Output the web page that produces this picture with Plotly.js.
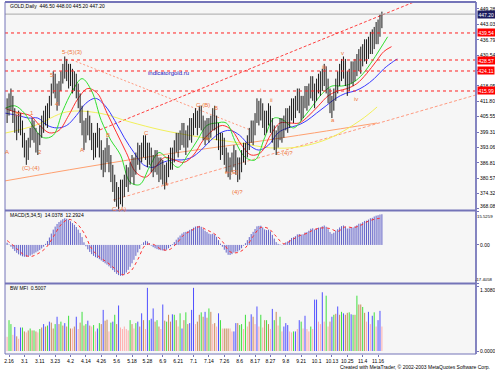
<!DOCTYPE html>
<html><head><meta charset="utf-8">
<script src="https://cdn.plot.ly/plotly-3.0.1.min.js"></script>
<style>html,body{margin:0;padding:0;background:#fff;}#chart{width:495px;height:374px;}</style>
</head><body><div id="chart"></div>
<script>
// ---------- DATA ----------
const dateLabels = ["2.16","3.1","3.11","3.23","4.2","4.14","4.26","5.6","5.18","5.28","6.9","6.21","7.1","7.14","7.26","8.6","8.17","8.27","9.8","9.21","10.1","10.13","10.25","11.4","11.16"];
const dateIdx = [1,9,17,25,33,41,49,57,65,73,81,89,97,105,113,121,129,137,145,153,161,169,177,185,193];

const close = [408,411,413,407,404,401,405,403,397,394,
390,393,398,401,399,396,395,399,402,404,
407,406,411,416,420,418,412,416,421,424,
427,425,422,424,420,421,418,414,409,403,
398,400,404,401,397,393,395,399,394,390,
386,389,393,388,384,380,377,373,372,376,
374,379,382,380,384,386,383,388,391,389,
392,395,393,390,392,388,386,389,387,384,
386,383,381,384,387,390,389,393,396,394,
397,400,398,395,399,402,400,404,406,403,
407,405,401,399,402,400,403,406,405,401,
397,394,396,391,388,386,385,388,390,387,
384,386,389,392,391,395,398,401,399,404,
409,407,410,406,403,405,408,404,400,397,
396,399,402,400,403,406,404,407,410,408,
411,414,412,409,411,415,413,416,419,417,
414,418,420,419,422,424,420,416,412,410,
414,418,421,424,426,427,423,419,422,425,
423,426,428,430,429,432,434,433,435,437,
436,439,441,440,444,447.2];
const high = [413,415,417,414,409,406,408,407,404,399,
396,397,401,405,404,401,399,402,406,408,
410,411,414,419,424,423,419,420,424,427,
430,429,427,427,425,424,423,419,415,410,
404,405,408,406,403,399,399,403,401,396,
392,393,397,394,390,386,382,379,377,380,
380,382,386,385,387,390,389,391,395,394,
395,398,398,395,395,393,390,392,392,389,
389,388,386,387,390,393,393,396,399,399,
400,403,403,400,402,405,405,407,409,408,
410,410,406,404,405,405,406,409,410,406,
403,399,399,397,393,391,389,391,394,392,
389,389,392,395,395,398,401,404,404,407,
413,412,413,411,408,408,411,410,405,402,
400,402,405,405,406,409,409,410,413,413,
414,417,417,414,414,418,418,419,422,422,
419,421,423,424,425,427,426,421,417,414,
417,421,424,427,429,430,429,424,425,428,
428,429,431,433,434,435,437,437,438,440,
441,442,444,445,447,448.2];
const low = [403,406,408,403,399,396,399,398,393,389,
386,388,393,396,395,391,390,394,397,399,
402,401,405,410,415,413,408,410,416,419,
421,420,417,418,415,416,413,409,403,398,
392,395,398,396,392,388,389,393,389,384,
381,383,387,383,379,375,371,369,368,370,
369,373,377,375,378,381,378,382,386,384,
387,389,388,385,386,383,381,383,382,379,
380,378,376,378,381,384,384,387,391,389,
392,394,393,390,393,396,395,398,401,398,
401,400,396,394,396,395,397,400,400,396,
392,388,390,386,383,381,380,383,385,382,
379,380,383,387,386,389,392,395,394,398,
403,402,404,401,398,399,402,399,395,392,
390,393,396,395,397,400,399,401,404,403,
405,408,407,404,405,409,408,410,413,412,
409,412,415,414,416,418,415,411,407,405,
408,412,415,418,420,421,418,414,416,419,
418,420,422,424,423,426,428,427,429,431,
431,433,435,435,438,441.5];

// Alligator-like moving averages (sparse points)
const greenX = [-1,4,9,14,19,24,29,34,39,44,49,54,59,64,69,74,79,84,89,94,99,104,109,114,119,124,129,134,139,144,149,154,159,164,169,174,179,184,189,194,198];
const greenY = [409,410,407,401,397,398,408,416,421,416,404,396,390,379,378,385,391,388,385,390,396,402,403,403,395,389,388,397,405,404,401,405,410,415,418,418,419,422,427,433,438];
const redX = [-1,2,7,12,17,22,27,32,37,42,47,52,57,62,67,72,77,82,87,92,97,102,107,112,117,122,127,132,137,142,147,152,157,162,167,172,177,182,187,192,196,200];
const redY = [409,408,407,406,402,399,400,406,413,417,415,407,399,391,383,381,385,389,388,387,390,396,400,402,400,394,390,391,398,403,403,403,406,410,414,416,417,419,423,428,432,434];
const blueX = [-1,6,11,16,21,26,31,36,41,46,51,56,61,66,71,76,81,86,91,96,101,106,111,116,121,126,131,136,141,146,151,156,161,166,171,176,181,186,191,196,201,203];
const blueY = [407,406,405,405,402,401,402,406,411,413,410,404,397,391,386,385,387,388,388,389,392,396,399,400,398,394,392,394,399,401,402,404,407,410,413,415,416,418,421,425,428,429];
const yellowX = [-1,14.5,31,48,64,80,100,121,137,152,168,184,192.5];
const yellowY = [398.9,402,407.5,407,403.4,400.2,397.3,394.9,392.9,393.3,396.9,404.2,409.5];
const orangeX = [-1,40,80,126,160,192.5];
const orangeY = [379.5,385,390,395,399,403];

// trend / channel lines (endpoints)
const upperX = [48.3,214.8], upperY = [400.2,453.1];
const lowerX = [55.1,244], lowerY = [371.7,414.4];
const descX = [33.8,126.4], descY = [428.6,400.2];

// horizontal levels
const levelPrices = [439.54,428.57,424.11,415.99];
const levelText = ["439.54","428.57","424.11","415.99"];
const lastPrice = 447.20;

// price axis labels
const priceTicks = [449.28,443.03,436.79,430.54,424.29,418.05,411.80,405.55,399.31,393.06,386.81,380.57,374.32,368.08];

// Elliott wave labels
const waveText = ["(B)","1","5","4","5-(5)(3)","A","2","(C)-(4)","A","B","C","C-(A)","b","C-(B)","B","a","e-(E)","(4)?","i","ii","c-(4)?","iii","v","iv","a"];
const waveIdx  = [5.7,13.0,23.4,26.0,33.8,-0.3,17.2,12.5,39.0,52.5,72.3,58.2,83.2,101.9,108.7,104.0,117.0,120.1,131.6,137.8,144.6,164.8,174.7,181.5,169.5];
const wavePrice= [406.6,407.1,422.5,410.7,431.8,391.2,391.2,384.7,392.0,398.1,398.9,368.1,378.2,410.3,409.1,396.9,383.1,375.0,416.4,412.3,390.8,425.7,431.4,412.7,404.2];

// MACD(5,34,5)
const macd = [1.0,0.2,-0.8,-1.8,-2.8,-3.6,-4.3,-4.8,-5.2,-5.4,
-5.5,-5.3,-4.9,-4.4,-3.9,-3.4,-2.9,-2.3,-1.6,-0.8,
0.5,1.8,3.4,5.2,7.0,8.4,9.6,10.5,11.2,11.8,
12.2,12.0,11.5,10.8,10.0,9.2,8.2,7.0,5.5,3.6,
1.2,-0.6,-2.0,-3.2,-4.2,-5.0,-5.6,-6.0,-6.5,-7.1,
-7.8,-8.4,-9.0,-9.8,-10.6,-11.5,-12.4,-13.2,-13.8,-14.1,
-14.0,-13.5,-12.6,-11.4,-10.0,-8.4,-6.8,-5.0,-3.4,-1.8,
0.2,1.2,1.9,1.6,0.8,-0.3,-1.0,-1.5,-1.9,-2.2,
-2.4,-2.5,-2.6,-2.2,-1.5,-0.6,0.3,1.3,2.4,3.4,
4.3,5.2,5.8,6.0,6.3,6.9,7.3,7.9,8.4,8.6,
8.7,8.3,7.4,6.5,5.9,5.2,4.9,5.1,4.8,3.7,
2.2,0.6,-0.8,-2.2,-3.5,-4.5,-4.6,-4.2,-3.5,-3.1,
-3.0,-2.4,-1.5,-0.3,0.8,2.2,3.6,5.0,6.0,7.3,
8.5,8.7,8.8,8.0,7.1,6.8,7.0,6.2,4.6,2.9,
1.3,0.5,0.2,-0.1,0.4,1.2,1.6,2.3,3.2,3.5,
4.0,4.8,5.0,4.7,4.9,5.7,5.9,6.5,7.4,7.6,
7.0,7.4,7.9,8.0,8.5,8.9,8.3,7.2,5.9,5.1,
5.6,6.5,7.2,8.0,8.6,8.9,8.3,7.5,7.6,8.1,
8.0,8.5,9.0,9.7,9.8,10.4,11.0,11.1,11.6,12.2,
12.4,13.0,13.4,13.6,13.9,14.04];
const signalX = [0,4,8,12,16,20,24,28,32,36,40,44,48,52,56,60,64,68,72,76,80,84,88,92,96,100,104,108,112,116,120,124,128,132,136,140,144,148,152,156,160,164,168,172,176,180,184,188,192,195];
const signalY = [2.0,-0.8,-4.0,-5.3,-4.0,-1.5,3.6,9.2,11.7,10.0,5.5,-1.7,-5.5,-7.9,-10.8,-13.6,-12.3,-6.7,-0.1,0.3,-1.9,-2.3,0.5,4.6,6.6,8.3,6.8,5.0,1.6,-3.1,-3.5,-1.3,3.9,8.0,7.5,3.9,0.5,2.2,4.2,5.3,7.1,7.8,7.5,6.2,8.3,7.9,9.0,10.9,11.9,12.29];

// BW MFI values and colours (g=green, b=blue, s=brown, p=pink)
const mfi = [0.29,0.63,0.55,0.33,0.49,0.30,0.25,0.48,0.48,0.40,
0.38,0.42,0.46,0.42,0.42,0.40,0.38,0.45,0.48,0.55,
0.50,0.52,0.60,0.58,0.46,0.55,0.70,0.55,0.60,0.52,
0.57,0.50,0.72,0.46,0.46,0.50,0.70,0.45,0.58,0.80,
0.52,0.55,0.62,0.52,0.50,0.53,0.40,0.46,0.57,0.55,
0.84,0.62,0.64,0.40,0.58,0.60,0.74,0.55,0.93,0.48,
0.45,0.50,0.45,0.42,0.63,0.55,0.46,0.57,0.60,0.50,
0.77,0.63,0.45,1.29,0.63,0.66,0.87,0.60,0.63,0.50,
0.45,0.95,0.62,0.60,0.74,0.60,0.75,0.74,0.63,0.50,
0.77,0.46,0.63,0.79,0.55,0.57,0.84,1.29,0.55,0.60,
0.74,0.79,0.70,0.80,0.68,0.87,0.80,0.55,0.57,0.50,
0.77,0.63,0.46,0.46,0.46,0.46,0.46,0.40,0.40,0.57,
0.57,0.53,0.55,0.45,0.74,0.50,0.60,0.75,0.70,0.55,
0.91,0.50,0.74,0.48,0.63,0.63,0.55,0.45,0.86,0.63,
0.80,0.52,0.70,0.40,0.50,0.57,0.53,0.40,0.38,0.40,
0.40,0.45,0.63,0.60,0.46,0.72,0.45,0.40,0.50,0.45,
1.05,1.05,0.60,0.55,1.20,0.60,1.13,0.50,0.60,0.70,
0.74,0.76,0.91,0.74,0.80,0.77,0.74,0.78,0.79,0.75,
0.74,0.74,1.13,0.95,0.95,0.90,0.78,0.60,0.80,0.55,
0.72,0.79,0.50,0.63,0.82,0.50];
const mfiColor = ["p","g","g","p","b","s","p","b","g","s",
"p","s","g","s","g","s","p","g","s","b",
"s","g","b","s","s","g","b","s","g","s",
"b","s","g","s","p","s","b","p","s","g",
"s","g","b","s","p","g","p","b","g","s",
"b","s","s","p","g","b","g","s","b","p",
"p","p","p","p","g","s","p","g","b","s",
"b","s","p","b","g","b","b","s","g","s",
"p","b","s","g","s","s","b","g","s","p",
"g","b","s","g","s","b","b","b","p","s",
"s","g","s","b","s","g","s","p","s","p",
"b","g","p","s","s","s","p","p","b","b",
"s","g","g","p","g","p","s","b","s","p",
"b","p","g","p","s","g","s","p","b","g",
"s","p","g","p","b","b","b","p","p","g",
"b","p","b","g","p","b","p","p","g","p",
"b","b","p","p","b","p","g","p","s","b",
"g","s","b","s","g","b","s","s","g","b",
"g","s","g","s","s","g","s","p","b","p",
"b","g","p","b","b","p"];

// ---------- DRAWING ----------
const W = 495, H = 374;
const px = v => v / W, py = v => 1 - v / H;
const XL = 5, XR = 476;
const FONT = "Liberation Sans, Arial, sans-serif";
const ORANGE = "#f07438";

function seg(xs, y0s, y1s) {
  const x = [], y = [];
  for (let i = 0; i < xs.length; i++) { x.push(xs[i], xs[i], null); y.push(y0s[i], y1s[i], null); }
  return {x, y};
}
const idx = close.map((_, i) => i);
const traces = [];

traces.push({x: upperX, y: upperY, mode: 'lines', line: {color: '#ff4040', width: 1, dash: '3px,2px'}, xaxis: 'x', yaxis: 'y'});
traces.push({x: lowerX, y: lowerY, mode: 'lines', line: {color: '#ff9a80', width: 1, dash: '3px,2px'}, xaxis: 'x', yaxis: 'y'});
traces.push({x: descX, y: descY, mode: 'lines', line: {color: '#ff9a80', width: 1, dash: '2px,2px'}, xaxis: 'x', yaxis: 'y'});

traces.push({x: orangeX, y: orangeY, mode: 'lines', line: {color: '#ffa070', width: 1, shape: 'spline'}});
traces.push({x: yellowX, y: yellowY, mode: 'lines', line: {color: '#f2f05a', width: 1, shape: 'spline'}});
traces.push({x: blueX, y: blueY, mode: 'lines', line: {color: '#3a3aff', width: 1, shape: 'spline'}});
traces.push({x: redX, y: redY, mode: 'lines', line: {color: '#ff3030', width: 1, shape: 'spline'}});
traces.push({x: greenX, y: greenY, mode: 'lines', line: {color: '#30e030', width: 1, shape: 'spline'}});

const b = seg(idx, low, high);
traces.push({x: b.x, y: b.y, mode: 'lines', line: {color: '#1a1a1a', width: 1}, xaxis: 'x', yaxis: 'y'});

const m = seg(idx, idx.map(() => 0), macd);
traces.push({x: m.x, y: m.y, mode: 'lines', line: {color: '#6262c8', width: 1}, xaxis: 'x', yaxis: 'y2'});
traces.push({x: signalX, y: signalY, mode: 'lines', line: {color: '#ff3030', width: 1, dash: 'dot', shape: 'spline'}, xaxis: 'x', yaxis: 'y2'});

const colMap = {g: '#3ee03e', b: '#5050ff', s: '#c98a5a', p: '#ffadad'};
Object.keys(colMap).forEach(k => {
  const xs = [], ys0 = [], ys1 = [];
  mfi.forEach((v, i) => { if (mfiColor[i] === k) { xs.push(i); ys0.push(0); ys1.push(v); } });
  const s = seg(xs, ys0, ys1);
  traces.push({x: s.x, y: s.y, mode: 'lines', line: {color: colMap[k], width: 1}, xaxis: 'x', yaxis: 'y3'});
});

traces.forEach(t => { t.hoverinfo = 'skip'; t.showlegend = false; if (!t.xaxis) { t.xaxis = 'x'; t.yaxis = 'y'; } });

const shapes = [];
levelPrices.forEach(p => shapes.push({type: 'line', xref: 'paper', yref: 'y', x0: px(XL), x1: px(XR), y0: p, y1: p, line: {color: '#ff2020', width: 1, dash: 'dot'}}));
shapes.push({type: 'line', xref: 'paper', yref: 'y', x0: px(XL), x1: px(XR), y0: lastPrice, y1: lastPrice, line: {color: '#a8a8a8', width: 1}});
const frame = '#7474b8';
shapes.push({type: 'rect', xref: 'paper', yref: 'paper', x0: px(XL), x1: px(XR), y0: py(354), y1: py(2), line: {color: frame, width: 1}});
shapes.push({type: 'line', xref: 'paper', yref: 'paper', x0: px(XL), x1: px(XR), y0: py(2), y1: py(2), line: {color: frame, width: 2}});
shapes.push({type: 'line', xref: 'paper', yref: 'paper', x0: px(XL), x1: px(XR), y0: py(210.5), y1: py(210.5), line: {color: frame, width: 2}});
shapes.push({type: 'line', xref: 'paper', yref: 'paper', x0: px(XL), x1: px(XR), y0: py(283.5), y1: py(283.5), line: {color: frame, width: 2}});
shapes.push({type: 'line', xref: 'paper', yref: 'paper', x0: px(XR), x1: px(XR), y0: py(354), y1: py(2), line: {color: frame, width: 1.5}});

const ann = [];
const small = {family: FONT, size: 5, color: '#000'};
ann.push({xref: 'paper', yref: 'paper', x: px(8), y: py(6), xanchor: 'left', yanchor: 'middle', text: 'GOLD,Daily  446.50 448.00 445.20 447.20', showarrow: false, font: small});
ann.push({xref: 'paper', yref: 'paper', x: px(8), y: py(215), xanchor: 'left', yanchor: 'middle', text: 'MACD(5,34,5)  14.0378  12.2924', showarrow: false, font: small});
ann.push({xref: 'paper', yref: 'paper', x: px(8), y: py(288), xanchor: 'left', yanchor: 'middle', text: 'BW MFI  0.5007', showarrow: false, font: small});
ann.push({xref: 'paper', yref: 'paper', x: px(492), y: py(367), xanchor: 'right', yanchor: 'middle', text: 'Created with MetaTrader, © 2002-2003 MetaQuotes Software Corp.', showarrow: false, font: small});
ann.push({xref: 'paper', yref: 'paper', x: px(168), y: py(73), xanchor: 'center', yanchor: 'middle', text: 'indicatorgold.ru', showarrow: false, font: {family: FONT, size: 6, color: '#2020c0'}});
waveText.forEach((t, i) => ann.push({xref: 'x', yref: 'y', x: waveIdx[i], y: wavePrice[i], text: t, showarrow: false, xanchor: 'center', yanchor: 'middle', font: {family: FONT, size: 6, color: ORANGE}}));
levelPrices.forEach((p, i) => ann.push({xref: 'paper', yref: 'y', x: px(477), y: p, xanchor: 'left', yanchor: 'middle', text: levelText[i], showarrow: false, bgcolor: '#ff0000', borderpad: 0.5, font: {family: FONT, size: 5, color: '#fff'}}));
ann.push({xref: 'paper', yref: 'y', x: px(477), y: lastPrice, xanchor: 'left', yanchor: 'middle', text: lastPrice.toFixed(2), showarrow: false, bgcolor: '#1c1c60', borderpad: 0.5, font: {family: FONT, size: 5, color: '#fff'}});
// edge axis labels placed by hand so neighbouring panels' labels do not collide
ann.push({xref: 'paper', yref: 'paper', x: px(478), y: py(206), xanchor: 'left', yanchor: 'middle', text: '368.08', showarrow: false, font: small});
ann.push({xref: 'paper', yref: 'paper', x: px(478), y: py(289.5), xanchor: 'left', yanchor: 'middle', text: '1.3080', showarrow: false, font: small});
ann.push({xref: 'paper', yref: 'paper', x: px(494), y: py(216), xanchor: 'right', yanchor: 'middle', text: '15.5259', showarrow: false, borderpad: 0, font: {family: FONT, size: 4.3, color: '#000'}});
ann.push({xref: 'paper', yref: 'paper', x: px(494), y: py(279), xanchor: 'right', yanchor: 'middle', text: '-17.4058', showarrow: false, borderpad: 0, font: {family: FONT, size: 4.3, color: '#000'}});

const hideTick = v => v === 424.29 || v === 368.08;
const tickFont = {family: FONT, size: 5, color: '#000'};
const common = {ticks: 'outside', ticklen: 2, tickcolor: frame, tickfont: tickFont, showgrid: false, zeroline: false, fixedrange: true};
const layout = {
  width: W, height: H, margin: {l: 0, r: 0, t: 0, b: 0},
  paper_bgcolor: '#ffffff', plot_bgcolor: '#f6f6f6',
  showlegend: false, hovermode: false,
  xaxis: Object.assign({domain: [px(XL), px(XR)], range: [-1.09, 243.96], anchor: 'y3', tickvals: dateIdx, ticktext: dateLabels, showline: false}, common),
  yaxis: Object.assign({domain: [py(210), py(2)], range: [367.67, 452.12], side: 'right', anchor: 'x', tickvals: priceTicks, ticktext: priceTicks.map(v => hideTick(v) ? '' : v.toFixed(2))}, common),
  yaxis2: Object.assign({domain: [py(283), py(211)], range: [-17.4058, 15.5259], side: 'right', anchor: 'x', tickvals: [15.5259, 0, -17.4058], ticktext: ['', '0.00', '']}, common),
  yaxis3: Object.assign({domain: [py(354), py(284)], range: [-0.061, 1.369], side: 'right', anchor: 'x', tickvals: [1.308, 0], ticktext: ['', '0.0000']}, common),
  shapes: shapes, annotations: ann
};
Plotly.newPlot('chart', traces, layout, {staticPlot: true, displayModeBar: false});
</script></body></html>
